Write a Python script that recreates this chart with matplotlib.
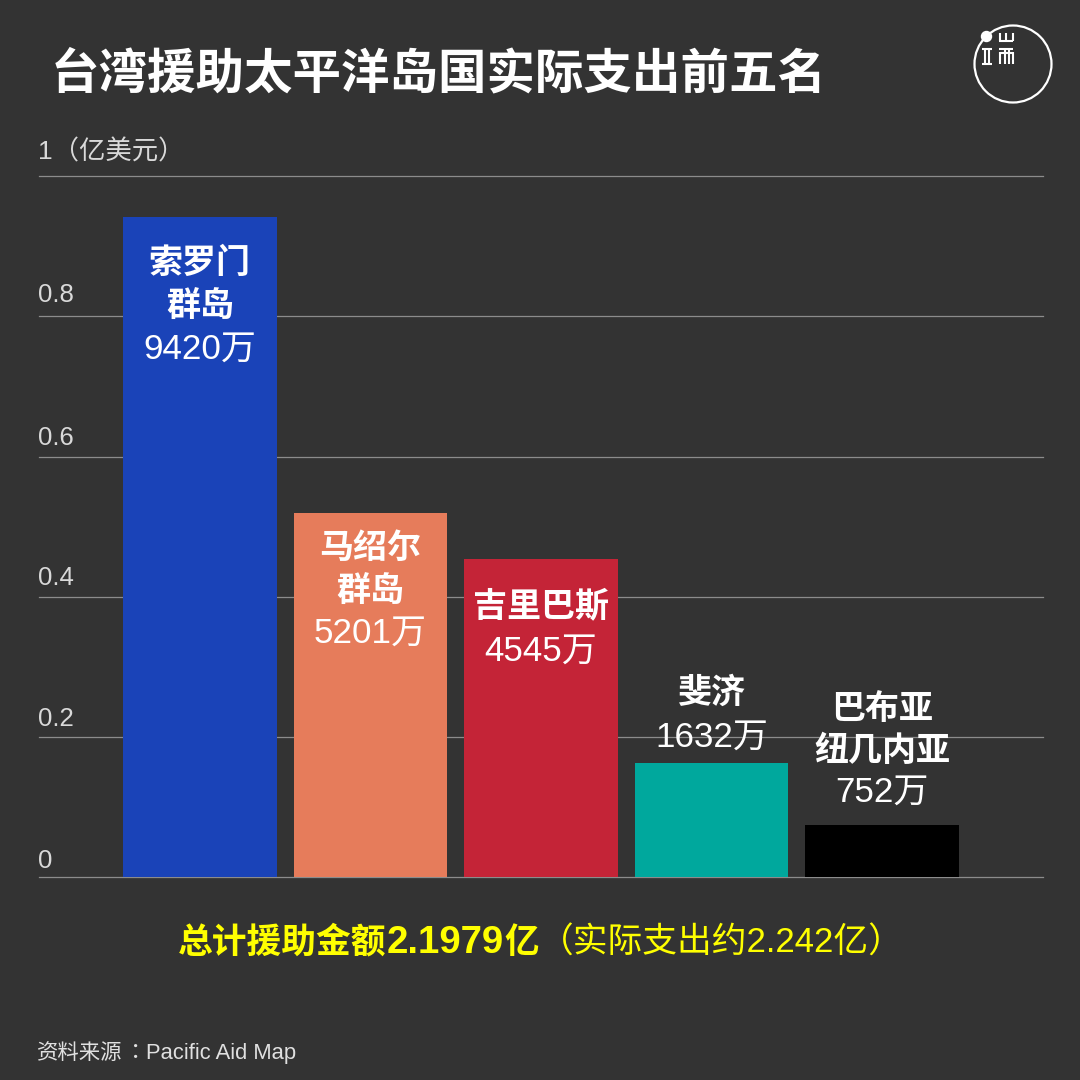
import numpy as np
import matplotlib
matplotlib.use('Agg')
import matplotlib.pyplot as plt

FONTS = ['Liberation Sans', 'Noto Sans CJK SC', 'DejaVu Sans']
plt.rcParams['font.family'] = FONTS

# data
countries = ['索罗门群岛', '马绍尔群岛', '吉里巴斯', '斐济', '巴布亚纽几内亚']
amounts = [0.9420, 0.5201, 0.4545, 0.1632, 0.0752]
amount_labels = ['9420万', '5201万', '4545万', '1632万', '752万']
name_lines = [['索罗门', '群岛'], ['马绍尔', '群岛'], ['吉里巴斯'], ['斐济'], ['巴布亚', '纽几内亚']]
ticks = [0, 0.2, 0.4, 0.6, 0.8, 1]
tick_labels = ['0', '0.2', '0.4', '0.6', '0.8', '1（亿美元）']

colors = ['#1a43b8', '#e67c5b', '#c42437', '#00a89d', '#000000']
BG = '#333333'

# pixel offsets of the label lines from the bar top, top line first
offsets = [[-47, -90, -132], [-36, -79, -120], [-48, -92], [69, 26], [115, 73, 32]]
# baseline of each tick label above its gridline, they are not evenly placed in the original
tick_offsets = [9, 11, 12, 12, 15, 17]

W = 1080
fig = plt.figure(figsize=(10.8, 10.8), dpi=100, facecolor=BG)
ax = fig.add_axes([39 / W, 1 - 877.3 / W, (1043 - 39) / W, 701 / W])
ax.set_facecolor(BG)
x = np.arange(len(countries))
ax.set_xlim(-161 / 170.5, 843 / 170.5)
ax.set_ylim(0, 1)
for s in ax.spines.values():
    s.set_visible(False)
ax.set_xticks([])
ax.set_yticks(ticks)
ax.tick_params(left=False, labelleft=False)
ax.grid(axis='y', color='#8c8c8c', lw=0.9, zorder=1, clip_on=False)
ax.set_axisbelow(True)

ax.bar(x, amounts, width=0.9, color=colors, zorder=2)

for t, lab, off in zip(ticks, tick_labels, tick_offsets):
    ax.annotate(lab, (0, t), xycoords=('axes fraction', 'data'), xytext=(-1, off),
                textcoords='offset pixels', color='#d9d9d9', ha='left', va='baseline',
                fontsize=19 if t == 1 else 18.5)

for i in x:
    lines = name_lines[i] + [amount_labels[i]]
    for j, line in enumerate(lines):
        is_name = j < len(lines) - 1
        ax.annotate(line, (i, amounts[i]), xytext=(0, offsets[i][j]), textcoords='offset pixels',
                    color='white', ha='center', va='center', zorder=4,
                    fontsize=24.5 if is_name else 25.2,
                    fontweight='bold' if is_name else 'normal')

# title
fig.text(51 / W, 1 - 75 / W, '台湾援助太平洋岛国实际支出前五名', color='white', fontsize=34.9,
         fontweight='bold', ha='left', va='center')

# total line, the digits are a bit larger than the hanzi
y_total = 1 - 953 / W
fig.text(178 / W, y_total, '总计援助金额', color='#ffff00', fontsize=25, fontweight='bold', ha='left', va='baseline')
fig.text(387 / W, y_total, '2.1979', color='#ffff00', fontsize=27.6, fontweight='bold', ha='left', va='baseline')
fig.text(504 / W, y_total, '亿', color='#ffff00', fontsize=25, fontweight='bold', ha='left', va='baseline')
fig.text(539 / W, y_total, '（实际支出约2.242亿）', color='#ffff00', fontsize=25, ha='left', va='baseline')

# source
y_src = 1 - 1059 / W
fig.text(37 / W, y_src, '资料来源', color='#e0e0e0', fontsize=15.4, ha='left', va='baseline')
fig.text(125 / W, y_src, '：', color='#e0e0e0', fontsize=15.4, ha='left', va='baseline', family=['Noto Sans CJK TC'])
fig.text(146 / W, y_src, 'Pacific Aid Map', color='#e0e0e0', fontsize=15.8, ha='left', va='baseline')

# logo, drawn in pixel coordinates
logo = fig.add_axes([0, 0, 1, 1])
logo.set_xlim(0, W)
logo.set_ylim(W, 0)
logo.axis('off')
logo.patch.set_alpha(0)
logo.add_patch(plt.Circle((1013, 64), 38.5, fill=False, ec='white', lw=1.6))
logo.add_patch(plt.Circle((986.5, 36.5), 5, color='white'))
strokes = [
    ((982, 992), (48.5, 48.5)), ((982, 992), (64, 64)), ((984.8, 984.8), (48.5, 64)), ((989.2, 989.2), (48.5, 64)),
    ((999, 1013), (40.5, 40.5)), ((1000, 1000), (33, 40.5)), ((1006, 1006), (33, 40.5)), ((1012.5, 1012.5), (33, 40.5)),
    ((999, 1013), (48.5, 48.5)), ((1000, 1000), (52, 64)), ((1004.5, 1004.5), (48.5, 64)),
    ((1008.5, 1008.5), (48.5, 64)), ((1012.5, 1012.5), (52, 64)), ((1000, 1012.5), (52.5, 52.5)),
]
for xs, ys in strokes:
    logo.plot(xs, ys, color='white', lw=1.5, solid_capstyle='butt')

fig.savefig('out.png', dpi=100, facecolor=BG)
